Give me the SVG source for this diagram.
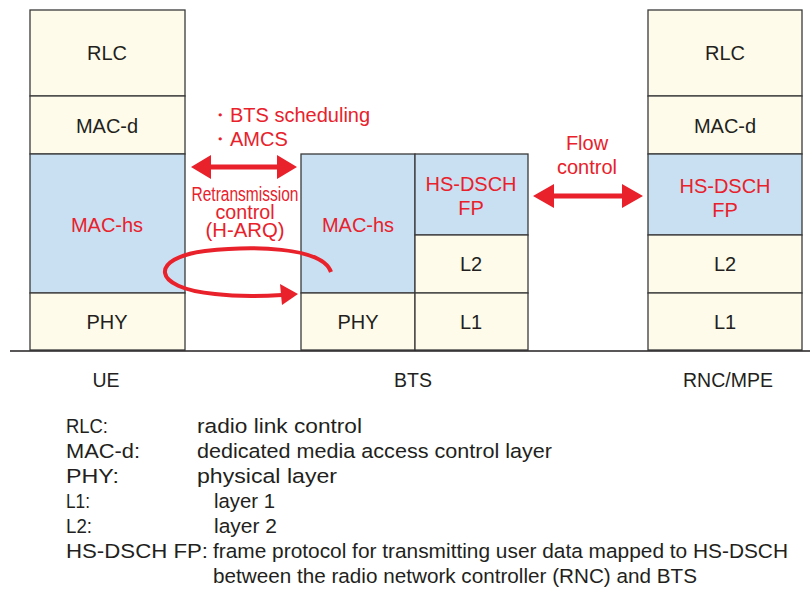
<svg xmlns="http://www.w3.org/2000/svg" width="810" height="591" viewBox="0 0 810 591">
<style>
.c{fill:#fefbea;stroke:#3a3a3a;stroke-width:1.3}
.b{fill:#c9dff2;stroke:#3a3a3a;stroke-width:1.3}
.t{font-family:"Liberation Sans",Arial,sans-serif;font-size:20px;fill:#231f20;text-anchor:middle}
.r{fill:#e8212b}
.lbl{font-family:"Liberation Sans",Arial,sans-serif;font-size:19.5px;fill:#231f20;text-anchor:middle}
.red{font-family:"Liberation Sans",Arial,sans-serif;font-size:20px;fill:#e8212b}
.lg{font-family:"Liberation Sans",Arial,sans-serif;font-size:20.5px;fill:#231f20}
</style>
<rect width="810" height="591" fill="#fff"/>
<g id="ue">
<rect class="c" x="30" y="10" width="155" height="86"/><text class="t" x="107" y="60">RLC</text>
<rect class="c" x="30" y="96" width="155" height="58"/><text class="t" x="107" y="133">MAC-d</text>
<rect class="b" x="30" y="154" width="155" height="139"/><text class="t r" x="107" y="232">MAC-hs</text>
<rect class="c" x="30" y="293" width="155" height="57"/><text class="t" x="107" y="329">PHY</text>
</g>
<g id="bts">
<rect class="b" x="301" y="154" width="114" height="139"/><text class="t r" x="358" y="232">MAC-hs</text>
<rect class="c" x="301" y="293" width="114" height="57"/><text class="t" x="358" y="329">PHY</text>
<rect class="b" x="415" y="154" width="113" height="81"/><text class="t r" x="471" y="191" font-size="20.5">HS-DSCH</text><text class="t r" x="471" y="215" font-size="20.5">FP</text>
<rect class="c" x="415" y="235" width="113" height="58"/><text class="t" x="471" y="271">L2</text>
<rect class="c" x="415" y="293" width="113" height="57"/><text class="t" x="471" y="329">L1</text>
</g>
<g id="rnc">
<rect class="c" x="648" y="10" width="154" height="86"/><text class="t" x="725" y="60">RLC</text>
<rect class="c" x="648" y="96" width="154" height="58"/><text class="t" x="725" y="133">MAC-d</text>
<rect class="b" x="648" y="154" width="154" height="81"/><text class="t r" x="725" y="193" font-size="20.5">HS-DSCH</text><text class="t r" x="725" y="217" font-size="20.5">FP</text>
<rect class="c" x="648" y="235" width="154" height="58"/><text class="t" x="725" y="271">L2</text>
<rect class="c" x="648" y="293" width="154" height="57"/><text class="t" x="725" y="329">L1</text>
</g>
<line x1="10" y1="351" x2="810" y2="351" stroke="#231f20" stroke-width="1.3"/>
<g id="connectors" fill="#e8212b">
<polygon points="191,167 211,155 211,164.5 277,164.5 277,155 297,167 277,179 277,169.5 211,169.5 211,179"/>
<polygon points="533,196 554,184 554,193.5 622,193.5 622,184 643,196 622,208 622,198.5 554,198.5 554,208"/>
<path d="M331,272 C322,246 250,246 205,251 C150,258 150,288 215,294 C240,297 265,296 282,295" fill="none" stroke="#e8212b" stroke-width="4"/>
<polygon points="298,294 280,284 282,305"/>
</g>
<g id="labels">
<text class="red" x="210" y="122">・BTS scheduling</text>
<text class="red" x="210" y="146">・AMCS</text>
<text class="red" text-anchor="middle" font-size="16"><tspan x="245" y="201" textLength="107" lengthAdjust="spacingAndGlyphs">Retransmission</tspan><tspan x="245" y="219" textLength="59" lengthAdjust="spacingAndGlyphs">control</tspan><tspan x="245" y="237" textLength="79" lengthAdjust="spacingAndGlyphs">(H-ARQ)</tspan></text>
<text class="red" x="587" y="150" text-anchor="middle">Flow</text>
<text class="red" x="587" y="174" text-anchor="middle">control</text>
<text class="lbl" x="106" y="387">UE</text>
<text class="lbl" x="413" y="387">BTS</text>
<text class="lbl" x="728" y="387">RNC/MPE</text>
</g>
<g id="legend">
<text class="lg" x="66" y="433" textLength="42" lengthAdjust="spacingAndGlyphs">RLC:</text>
<text class="lg" x="197" y="433" textLength="165" lengthAdjust="spacingAndGlyphs">radio link control</text>
<text class="lg" x="66" y="458" textLength="74" lengthAdjust="spacingAndGlyphs">MAC-d:</text>
<text class="lg" x="197" y="458" textLength="355" lengthAdjust="spacingAndGlyphs">dedicated media access control layer</text>
<text class="lg" x="66" y="483" textLength="53" lengthAdjust="spacingAndGlyphs">PHY:</text>
<text class="lg" x="197" y="483" textLength="140" lengthAdjust="spacingAndGlyphs">physical layer</text>
<text class="lg" x="66" y="508" textLength="24" lengthAdjust="spacingAndGlyphs">L1:</text>
<text class="lg" x="214" y="508" textLength="61" lengthAdjust="spacingAndGlyphs">layer 1</text>
<text class="lg" x="66" y="533" textLength="26" lengthAdjust="spacingAndGlyphs">L2:</text>
<text class="lg" x="214" y="533" textLength="63" lengthAdjust="spacingAndGlyphs">layer 2</text>
<text class="lg" x="66" y="558" textLength="142" lengthAdjust="spacingAndGlyphs">HS-DSCH FP:</text>
<text class="lg" x="213" y="558" textLength="575" lengthAdjust="spacingAndGlyphs">frame protocol for transmitting user data mapped to HS-DSCH</text>
<text class="lg" x="213" y="583" textLength="484" lengthAdjust="spacingAndGlyphs">between the radio network controller (RNC) and BTS</text>
</g>
</svg>
